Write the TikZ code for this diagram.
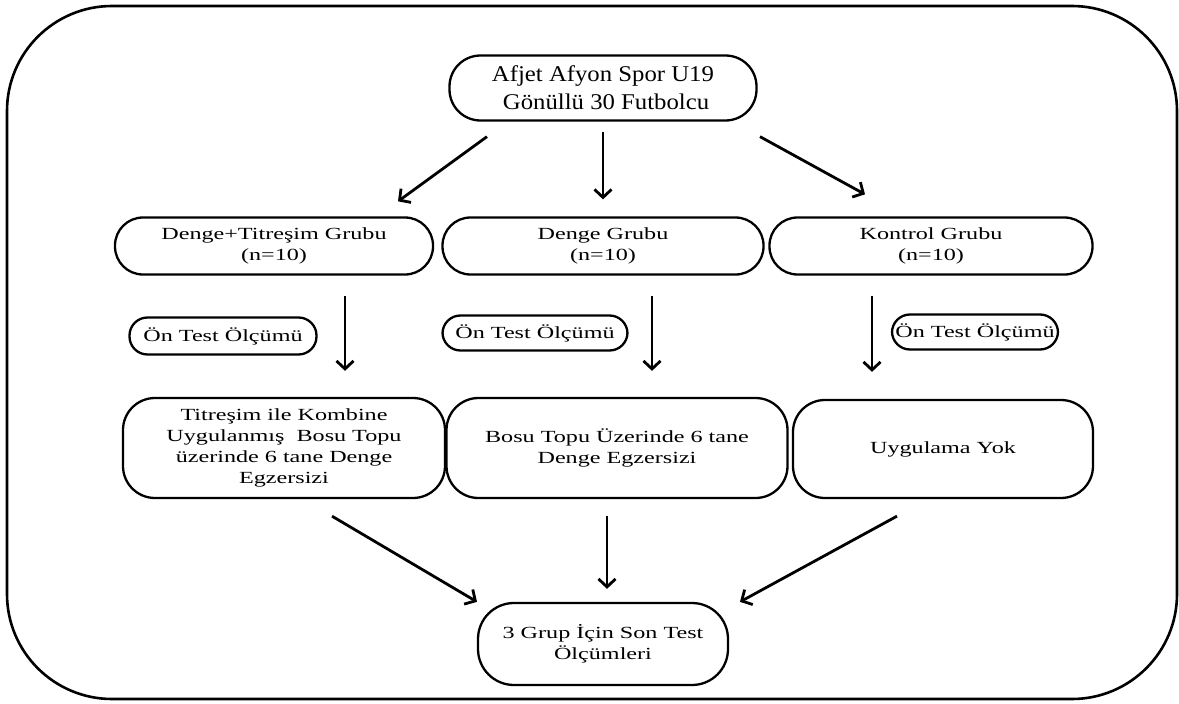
\documentclass[tikz,border=0pt]{standalone}
\usepackage{fontspec}
\setmainfont{Liberation Serif}
\newfontfamily\wideA{Liberation Serif}[FakeStretch=1.1]
\newfontfamily\wideB{Liberation Serif}[FakeStretch=1.42]
\usetikzlibrary{arrows.meta,calc}
\begin{document}
\begin{tikzpicture}[x=1pt,y=-1pt,
  boxbase/.style={draw, line width=2.3pt, inner sep=0pt, align=center},
  pill/.style={boxbase, rounded corners=#1},
  bigtext/.style={font=\wideA\fontsize{22.5}{28}\selectfont},
  smalltext/.style={font=\wideB\fontsize{17}{21}\selectfont},
  arr/.style={line width=2.8pt, -{Straight Barb[length=8pt,width=17pt]}}
]
\useasboundingbox (0,0) rectangle (1179,704);
\draw[line width=2.6pt, rounded corners=105pt] (7,6) rectangle (1177,699);

% top
\node[pill=31pt, bigtext, minimum width=307pt, minimum height=65pt] (top) at (603,88)
  {Afjet Afyon Spor U19\\ \ Gönüllü 30 Futbolcu};

% groups
\node[pill=28pt, smalltext, minimum width=318pt, minimum height=57pt] (g1) at (274,246)
  {Denge+Titreşim Grubu\\(n=10)};
\node[pill=28pt, smalltext, minimum width=321pt, minimum height=57pt] (g2) at (603,246)
  {Denge Grubu\\(n=10)};
\node[pill=28pt, smalltext, minimum width=323pt, minimum height=57pt] (g3) at (931,246)
  {Kontrol Grubu\\(n=10)};

% pre-test labels
\node[pill=18pt, smalltext, minimum width=187pt, minimum height=37pt] (p1) at (223,336) {Ön Test Ölçümü};
\node[pill=18pt, smalltext, minimum width=185pt, minimum height=35pt] (p2) at (535,333) {Ön Test Ölçümü};
\node[pill=18pt, smalltext, minimum width=166pt, minimum height=35pt] (p3) at (975,332) {Ön Test Ölçümü};

% interventions
\node[pill=32pt, smalltext, minimum width=322pt, minimum height=100pt] (h1) at (284,448)
  {Titreşim ile Kombine\\Uygulanmış\ \ Bosu Topu\\üzerinde 6 tane Denge\\Egzersizi};
\node[pill=32pt, smalltext, minimum width=341pt, minimum height=100pt] (h2) at (617,448)
  {Bosu Topu Üzerinde 6 tane\\Denge Egzersizi};
\node[pill=32pt, smalltext, minimum width=300pt, minimum height=98pt] (h3) at (943,449)
  {Uygulama Yok};

% final
\node[pill=36pt, smalltext, minimum width=250pt, minimum height=82pt] (f) at (603,644)
  {3 Grup İçin Son Test\\Ölçümleri};

% arrows top -> groups
\draw[arr] ($(top.south)+(-116,15)$) -- ($(g1.north)+(124,-15)$);
\draw[arr] ($(top.south)+(0,10)$) -- ($(g2.north)+(0,-17)$);
\draw[arr] ($(top.south)+(157,15)$) -- ($(g3.north)+(-66,-22)$);

% groups -> interventions
\draw[arr] ($(g1.south)+(71,20)$) -- ($(h1.north)+(61,-26)$);
\draw[arr] ($(g2.south)+(49,20)$) -- ($(h2.north)+(35,-26)$);
\draw[arr] ($(g3.south)+(-59,20)$) -- ($(h3.north)+(-71,-27)$);

% interventions -> final
\draw[arr] ($(h1.south)+(48,17)$) -- ($(f.north)+(-126,0)$);
\draw[arr] ($(h2.south)+(-10,17)$) -- ($(f.north)+(4,-13)$);
\draw[arr] ($(h3.south)+(-46,17)$) -- ($(f.north)+(137,0)$);
\end{tikzpicture}
\end{document}
